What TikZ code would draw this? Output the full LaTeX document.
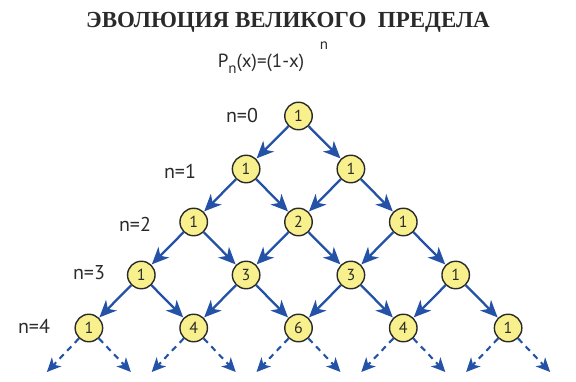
\documentclass[tikz,border=0pt]{standalone}
\usepackage{fontspec}
\setmainfont{PT Sans}
\newfontfamily\titlefont{Liberation Serif}
\usetikzlibrary{arrows.meta}
\definecolor{arrblue}{HTML}{2352A6}
\definecolor{nodey}{HTML}{F7F08C}
\definecolor{ink}{HTML}{2A2A2A}
\begin{document}
\begin{tikzpicture}[x=1pt,y=-1pt,
  num/.style={circle,draw=ink,line width=1.4pt,fill=nodey,minimum size=27.5pt,inner sep=0pt,text=ink,font=\fontsize{16}{16}\selectfont},
  arr/.style={draw=arrblue,line width=2.3pt,-{Stealth[length=17pt,width=15pt,inset=5pt]},shorten >=0.5pt},
  darr/.style={draw=arrblue,line width=2.1pt,dash pattern=on 6pt off 5pt,-{Stealth[length=14pt,width=13pt,inset=4pt]}},
  lab/.style={text=ink,font=\fontsize{20}{20}\selectfont,inner sep=0pt}]
\useasboundingbox (0,0) rectangle (576,382);
% title
\node[text=ink,font=\titlefont\bfseries\fontsize{23}{23}\selectfont,inner sep=0pt] (title) at (288,22) {ЭВОЛЮЦИЯ ВЕЛИКОГО\ \ ПРЕДЕЛА};
\node[text=ink,font=\fontsize{19}{19}\selectfont,inner sep=0pt] (formula) at (261,64) {P\raisebox{-6pt}{\fontsize{15}{15}\selectfont n}(x)=(1-x)};
\node[text=ink,font=\fontsize{15}{15}\selectfont,inner sep=0pt] (expn) at (324,46) {n};
% nodes
\foreach \n/\vals in {0/{1},1/{1,1},2/{1,2,1},3/{1,3,3,1},4/{1,4,6,4,1}} {
  \foreach \v [count=\k from 0] in \vals {
    \node[num] (r\n-\k) at ({298.5+52.4*(2*\k-\n)},{116+53*\n}) {\v};
  }
}
% edges
\foreach \n in {0,...,3} {
  \pgfmathtruncatemacro\m{\n+1}
  \foreach \k in {0,...,\n} {
    \pgfmathtruncatemacro\kk{\k+1}
    \draw[arr] (r\n-\k) -- (r\m-\k);
    \draw[arr] (r\n-\k) -- (r\m-\kk);
  }
}
% dashed continuation
\foreach \k in {0,...,4} {
  \path (r4-\k) ++(-42,44) coordinate (dl\k);
  \path (r4-\k) ++(42,44) coordinate (dr\k);
  \draw[darr] (r4-\k) -- (dl\k);
  \draw[darr] (r4-\k) -- (dr\k);
}
% row labels
\node[lab] (l0) at (242,116) {n=0};
\node[lab] (l1) at (180,171) {n=1};
\node[lab] (l2) at (135,224) {n=2};
\node[lab] (l3) at (89,273) {n=3};
\node[lab] (l4) at (34,326) {n=4};
\end{tikzpicture}
\end{document}
